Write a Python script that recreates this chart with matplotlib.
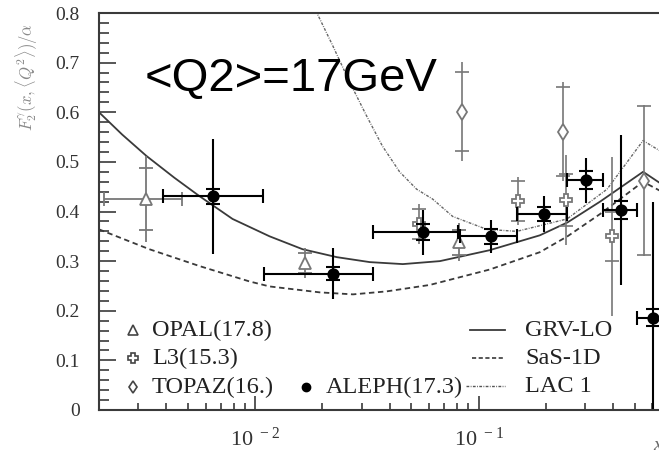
import numpy as np
import matplotlib
matplotlib.use("Agg")
import matplotlib.pyplot as plt
from matplotlib.lines import Line2D
from matplotlib.ticker import LogLocator, MultipleLocator, NullFormatter

plt.rcParams["font.family"] = ["Liberation Serif", "DejaVu Serif"]
plt.rcParams["mathtext.fontset"] = "cm"

# theory curves (x, F2/alpha)
grv_x = [0.002, 0.00254, 0.00326, 0.00435, 0.00563, 0.00792, 0.0116, 0.0163, 0.0232,
         0.0326, 0.0458, 0.0671, 0.112, 0.188, 0.25, 0.35, 0.545, 0.66]
grv_y = [0.600, 0.555, 0.512, 0.468, 0.431, 0.385, 0.350, 0.324, 0.308,
         0.298, 0.294, 0.300, 0.322, 0.352, 0.378, 0.420, 0.480, 0.455]
sas_x = [0.002, 0.00336, 0.00564, 0.00944, 0.0116, 0.0195, 0.0274, 0.0387, 0.0605,
         0.112, 0.188, 0.25, 0.35, 0.545, 0.66]
sas_y = [0.364, 0.324, 0.290, 0.259, 0.249, 0.237, 0.233, 0.239, 0.252,
         0.283, 0.318, 0.350, 0.395, 0.460, 0.440]
lac_x = [0.0178, 0.0189, 0.0222, 0.0264, 0.0315, 0.0371, 0.0443, 0.0528, 0.0623,
         0.0766, 0.1088, 0.1484, 0.249, 0.376, 0.545, 0.66]
lac_y = [0.830, 0.800, 0.735, 0.662, 0.593, 0.532, 0.480, 0.445, 0.425,
         0.390, 0.364, 0.360, 0.385, 0.445, 0.543, 0.520]

# OPAL (17.8)
opal_x = [0.00326, 0.0167, 0.0815]
opal_y = [0.425, 0.297, 0.338]
opal_tot = [0.087, 0.030, 0.038]
opal_stat = [0.062, 0.020, 0.025]
opal_xlo = [0.0021]
opal_xhi = [0.0047]

# L3 (15.3)
l3_x = [0.054, 0.150, 0.246, 0.395]
l3_y = [0.375, 0.421, 0.423, 0.350]
l3_tot = [0.040, 0.048, 0.090, 0.160]
l3_stat = [0.030, 0.040, 0.053, 0.050]

# TOPAZ (16.)
topaz_x = [0.084, 0.239, 0.551]
topaz_y = [0.601, 0.561, 0.462]
topaz_tot = [0.100, 0.100, 0.152]
topaz_stat = [0.080, 0.090, 0.150]

# ALEPH (17.3)
aleph_x = [0.00645, 0.0222, 0.0563, 0.1135, 0.196, 0.303, 0.434, 0.604]
aleph_y = [0.431, 0.275, 0.358, 0.350, 0.395, 0.463, 0.403, 0.186]
aleph_tot = [0.116, 0.052, 0.045, 0.033, 0.036, 0.045, 0.152, 0.234]
aleph_stat = [0.015, 0.013, 0.016, 0.015, 0.015, 0.018, 0.018, 0.017]
aleph_xlo = [0.00385, 0.0110, 0.0337, 0.0825, 0.149, 0.249, 0.361, 0.513]
aleph_xhi = [0.0108, 0.0337, 0.0809, 0.149, 0.249, 0.361, 0.513, 0.71]

y_ticks = [0, 0.1, 0.2, 0.3, 0.4, 0.5, 0.6, 0.7, 0.8]
y_tick_labels = ["0", "0.1", "0.2", "0.3", "0.4", "0.5", "0.6", "0.7", "0.8"]
x_ticks = [1e-2, 1e-1]
x_tick_labels = [r"$\mathregular{10^{\ -2}}$", r"$\mathregular{10^{\ -1}}$"]

W, H = 659, 458
fig = plt.figure(figsize=(W / 100, H / 100), dpi=100)
# axes runs past the right edge of the picture (x up to 1), as in the cropped original
ax = fig.add_axes([99 / W, 48 / H, (702 - 99) / W, 397 / H])
ax.set_xscale("log")
ax.set_xlim(0.002, 1.0)
ax.set_ylim(0, 0.8)

grey = "#777777"
dark = "#3a3a3a"

ax.plot(grv_x, grv_y, color=dark, lw=1.3, ls="-")
ax.plot(sas_x, sas_y, color=dark, lw=1.3, ls=(0, (3, 2)))
ax.plot(lac_x, lac_y, color="#666666", lw=1.0, ls=(0, (2, 1, 0.6, 1)))


def draw_points(x, y, tot, stat, color, marker, ms, face, lw, xlo=None, xhi=None):
    x = np.asarray(x)
    y = np.asarray(y)
    ax.errorbar(x, y, yerr=tot, fmt="none", ecolor=color, elinewidth=lw, capsize=0)
    ax.errorbar(x, y, yerr=stat, fmt="none", ecolor=color, elinewidth=0,
                capsize=5, capthick=lw)
    if xlo is not None:
        n = len(xlo)
        xs, ys = x[:n], y[:n]
        ax.errorbar(xs, ys, xerr=[xs - np.asarray(xlo), np.asarray(xhi) - xs],
                    fmt="none", ecolor=color, elinewidth=lw, capsize=5, capthick=lw)
    ax.plot(x, y, ls="none", marker=marker, ms=ms, mfc=face, mec=color, mew=1.3)


draw_points(opal_x, opal_y, opal_tot, opal_stat, grey, "^", 9, "white", 1.3,
            opal_xlo, opal_xhi)
draw_points(l3_x, l3_y, l3_tot, l3_stat, grey, "P", 9, "white", 1.2)
draw_points(topaz_x, topaz_y, topaz_tot, topaz_stat, grey, "d", 8, "white", 1.2)
draw_points(aleph_x, aleph_y, aleph_tot, aleph_stat, "black", "o", 7.5, "black", 1.5,
            aleph_xlo, aleph_xhi)

# ticks
ax.set_xticks(x_ticks, x_tick_labels)
ax.xaxis.set_minor_locator(LogLocator(base=10, subs=np.arange(2, 10)))
ax.xaxis.set_minor_formatter(NullFormatter())
ax.set_yticks(y_ticks, y_tick_labels)
ax.yaxis.set_minor_locator(MultipleLocator(0.02))
ax.tick_params(axis="both", which="both", direction="in", top=False, right=False,
               color=dark, width=1.2, labelcolor="#333333")
ax.tick_params(axis="x", which="major", length=10, labelsize=16, pad=13)
ax.tick_params(axis="x", which="minor", length=5)
ax.tick_params(axis="y", which="major", length=12, labelsize=14, pad=14)
ax.tick_params(axis="y", which="minor", length=7)
for s in ax.spines.values():
    s.set_color(dark)
    s.set_linewidth(1.5)

fig.text(27 / W, 1 - 77 / H, r"$F_2^\gamma(x,\langle Q^2\rangle)/\alpha$", rotation=90,
         color="#888888", fontsize=12, ha="center", va="center")
fig.text(653 / W, 1 - 446 / H, "x", style="italic", color="#666666", fontsize=14,
         ha="left", va="center")
fig.text(145 / W, 1 - 91 / H, "<Q2>=17GeV", family=["Liberation Sans", "DejaVu Sans"],
         fontsize=34, color="black", va="baseline")

# legend, laid out as in the original
leg_fs = 17.5
leg_col = "#222222"


def fx(px):
    return px / W


def fy(py):
    return 1 - py / H


fig.add_artist(Line2D([fx(133)], [fy(330)], ls="none", marker="^", ms=7, mfc="white",
                      mec="#444444", mew=1.2))
fig.add_artist(Line2D([fx(133)], [fy(358)], ls="none", marker="P", ms=7, mfc="white",
                      mec="#444444", mew=1.2))
fig.add_artist(Line2D([fx(133)], [fy(387)], ls="none", marker="d", ms=6, mfc="white",
                      mec="#444444", mew=1.2))
fig.add_artist(Line2D([fx(306)], [fy(387)], ls="none", marker="o", ms=6, mfc="black",
                      mec="black"))
for py, label in [(330, "OPAL(17.8)"), (358, "L3(15.3)"), (387, "TOPAZ(16.)")]:
    fig.text(fx(152), fy(py), label, fontsize=leg_fs, color=leg_col, va="center")
fig.text(fx(326), fy(387), "ALEPH(17.3)", fontsize=leg_fs, color=leg_col, va="center")

fig.add_artist(Line2D([fx(470), fx(505)], [fy(330)] * 2, color=dark, lw=1.3))
fig.add_artist(Line2D([fx(472), fx(505)], [fy(358)] * 2, color=dark, lw=1.2,
                      ls=(0, (2.5, 1.5))))
fig.add_artist(Line2D([fx(466), fx(505)], [fy(386)] * 2, color="#555555", lw=1.0,
                      ls=(0, (2, 1, 0.6, 1))))
for py, label in [(330, "GRV-LO"), (358, "SaS-1D"), (386, "LAC 1")]:
    fig.text(fx(525), fy(py), label, fontsize=leg_fs, color=leg_col, va="center")

fig.savefig("out.png", dpi=100)
